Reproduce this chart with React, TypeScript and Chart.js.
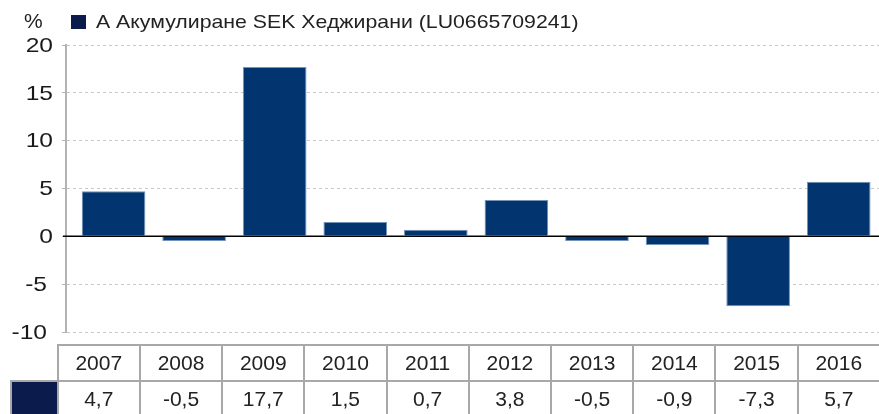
import React, { useEffect, useRef } from "react";
import { Chart, registerables } from "chart.js";

Chart.register(...registerables);

const seriesLabel = "А Акумулиране SEK Хеджирани (LU0665709241)";
const years = ["2007", "2008", "2009", "2010", "2011", "2012", "2013", "2014", "2015", "2016"];
const values = [4.7, -0.5, 17.7, 1.5, 0.7, 3.8, -0.5, -0.9, -7.3, 5.7];
const yMin = -10;
const yMax = 20;
const yStep = 5;
const unitLabel = "%";

const FONT = '"Liberation Sans", Arial, Helvetica, sans-serif';
const BAR_COLOR = "#02356f";
const SWATCH_COLOR = "#0b1b4b";
const TABLE_BORDER = "2px solid #a8a8a8";

const zeroLinePlugin = {
  id: "zeroLine",
  beforeDatasetsDraw(chart: any) {
    const { ctx, chartArea, scales } = chart;
    const y = scales.y.getPixelForValue(0);
    ctx.save();
    ctx.strokeStyle = "#000";
    ctx.lineWidth = 1.5;
    ctx.beginPath();
    ctx.moveTo(chartArea.left - 3, y);
    ctx.lineTo(chartArea.right, y);
    ctx.stroke();
    ctx.restore();
  },
};

// draws the y scale's own ticks, slightly widened like the reference typeface
const yTickLabelPlugin = {
  id: "yTickLabels",
  afterDraw(chart: any) {
    const { ctx, scales } = chart;
    const s = scales.y;
    ctx.save();
    ctx.font = `21px ${FONT}`;
    ctx.fillStyle = "#1a1a1a";
    ctx.textAlign = "right";
    ctx.textBaseline = "middle";
    for (const t of s.ticks) {
      const y = s.getPixelForValue(t.value);
      const right = s.right - 13 - (t.value < 0 ? 6 : 0);
      ctx.save();
      ctx.translate(right, y + 1);
      ctx.scale(1.17, 1);
      ctx.fillText(String(t.value), 0, 0);
      ctx.restore();
    }
    ctx.restore();
  },
};

export default function App() {
  const ref = useRef<HTMLCanvasElement>(null);

  useEffect(() => {
    if (!ref.current) return;
    const chart = new Chart(ref.current, {
      type: "bar",
      data: {
        datasets: [
          {
            label: seriesLabel,
            data: values.map((v, i) => ({ x: i, y: v })),
            backgroundColor: BAR_COLOR,
            borderColor: "#7393bb",
            borderWidth: 1,
            categoryPercentage: 1,
            barPercentage: 0.79,
          },
        ],
      },
      options: {
        animation: false,
        responsive: false,
        layout: { padding: { top: 45, bottom: 13, left: 0, right: 0 } },
        plugins: { legend: { display: false }, tooltip: { enabled: false } },
        scales: {
          x: { type: "linear", min: -0.59, max: 9.5, display: false, offset: false },
          y: {
            min: yMin,
            max: yMax,
            ticks: {
              stepSize: yStep,
              display: false,
            },
            grid: {
              color: (ctx: any) =>
                ctx.tick && ctx.tick.value === 0 ? "rgba(0,0,0,0)" : "#c8c8c8",
              tickLength: 4,
              tickColor: "#b3b3b3",
              lineWidth: 1,
            },
            border: { color: "#b3b3b3", width: 2, dash: [3, 3] },
            afterFit: (s: any) => {
              s.width = 66;
            },
          },
        },
      },
      plugins: [zeroLinePlugin, yTickLabelPlugin],
    } as any);
    return () => chart.destroy();
  }, []);

  const colW = (879 - 56.7) / years.length;

  return (
    <div
      style={{
        position: "absolute",
        left: 0,
        top: 0,
        width: 879,
        height: 414,
        overflow: "hidden",
        background: "#fff",
        fontFamily: FONT,
        color: "#222",
      }}
    >
      <canvas ref={ref} width={879} height={345} style={{ position: "absolute", left: 0, top: 0 }} />
      <div
        style={{
          position: "absolute",
          left: 24,
          top: 10,
          fontSize: 21,
          lineHeight: "21px",
          whiteSpace: "nowrap",
        }}
      >
        {unitLabel}
      </div>
      <div
        style={{
          position: "absolute",
          left: 71,
          top: 15,
          width: 15,
          height: 14,
          background: SWATCH_COLOR,
        }}
      />
      <div
        style={{
          position: "absolute",
          left: 96,
          top: 12.6,
          fontSize: 18.6,
          lineHeight: "18.6px",
          whiteSpace: "nowrap",
          transform: "scaleX(1.145)",
          transformOrigin: "left top",
        }}
      >
        {seriesLabel}
      </div>
      <table
        style={{
          position: "absolute",
          left: 10,
          top: 344,
          width: 870,
          borderCollapse: "collapse",
          tableLayout: "fixed",
          fontSize: 21,
          fontFamily: FONT,
          color: "#222",
        }}
      >
        <colgroup>
          <col style={{ width: 46.7 }} />
          {years.map((y) => (
            <col key={y} style={{ width: colW }} />
          ))}
        </colgroup>
        <tbody>
          <tr style={{ height: 36 }}>
            <td style={{ border: "none", padding: 0 }} />
            {years.map((y) => (
              <td key={y} style={{ border: TABLE_BORDER, textAlign: "center", padding: 0 }}>
                {y}
              </td>
            ))}
          </tr>
          <tr style={{ height: 36 }}>
            <td style={{ border: TABLE_BORDER, background: SWATCH_COLOR, padding: 0 }} />
            {values.map((v, i) => (
              <td key={i} style={{ border: TABLE_BORDER, textAlign: "center", padding: 0 }}>
                {String(v).replace(".", ",")}
              </td>
            ))}
          </tr>
        </tbody>
      </table>
    </div>
  );
}
